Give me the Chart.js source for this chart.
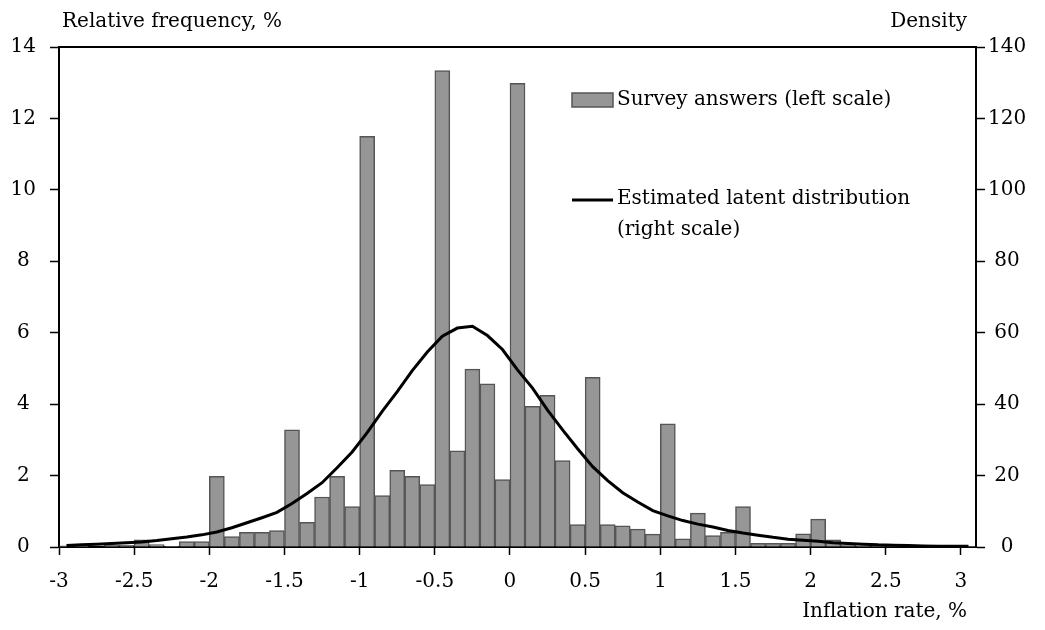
<!DOCTYPE html>
<html>
<head>
<meta charset="utf-8">
<script src="https://cdn.jsdelivr.net/npm/chart.js@4.4.1/dist/chart.umd.min.js"></script>
<style>
  html, body { margin: 0; padding: 0; background: #fff; }
  #wrap { width: 1045px; height: 630px; }
</style>
</head>
<body>
<div id="wrap"><canvas id="histChart" width="1045" height="630"></canvas></div>
<script>
// left edge of each 0.1-wide bin of expected inflation
const binStarts = [
  -3.0, -2.9, -2.8, -2.7, -2.6, -2.5, -2.4, -2.3, -2.2, -2.1,
  -2.0, -1.9, -1.8, -1.7, -1.6, -1.5, -1.4, -1.3, -1.2, -1.1,
  -1.0, -0.9, -0.8, -0.7, -0.6, -0.5, -0.4, -0.3, -0.2, -0.1,
   0.0,  0.1,  0.2,  0.3,  0.4,  0.5,  0.6,  0.7,  0.8,  0.9,
   1.0,  1.1,  1.2,  1.3,  1.4,  1.5,  1.6,  1.7,  1.8,  1.9,
   2.0,  2.1,  2.2,  2.3,  2.4,  2.5,  2.6,  2.7,  2.8,  2.9,
   3.0
];

// share of answers in each bin, %
const surveyShares = [
  0.03, 0.02, 0.00, 0.05, 0.05, 0.20, 0.07, 0.02, 0.15, 0.15,
  1.98, 0.29, 0.41, 0.41, 0.46, 3.28, 0.69, 1.40, 1.98, 1.13,
  11.50, 1.44, 2.15, 1.98, 1.75, 13.34, 2.69, 4.98, 4.57, 1.89,
  12.98, 3.94, 4.25, 2.42, 0.63, 4.75, 0.63, 0.59, 0.50, 0.36,
  3.45, 0.23, 0.95, 0.32, 0.41, 1.13, 0.10, 0.10, 0.10, 0.37,
  0.78, 0.20, 0.06, 0.03, 0.03, 0.02, 0.02, 0.01, 0.01, 0.01,
  0.01
];

// latent density at bin midpoints
const latentDensity = [
  0.4, 0.6, 0.8, 1.0, 1.2, 1.4, 1.8, 2.3, 2.8, 3.4,
  4.2, 5.4, 6.8, 8.2, 9.7, 12.2, 15.0, 18.0, 22.2, 26.6,
  32.0, 38.0, 43.5, 49.4, 54.6, 59.0, 61.3, 61.8, 59.2, 55.3,
  49.6, 44.5, 38.3, 32.8, 27.5, 22.5, 18.6, 15.2, 12.6, 10.2,
  8.7, 7.4, 6.4, 5.6, 4.6, 3.9, 3.3, 2.7, 2.2, 1.9,
  1.6, 1.2, 1.0, 0.8, 0.6, 0.5, 0.4, 0.3, 0.2, 0.2,
  0.2
];

const xTicks = [-3, -2.5, -2, -1.5, -1, -0.5, 0, 0.5, 1, 1.5, 2, 2.5, 3];
const leftTicks = [0, 2, 4, 6, 8, 10, 12, 14];
const rightTicks = [0, 20, 40, 60, 80, 100, 120, 140];

const FONT_FAMILY = 'DejaVu Serif';
const FONT_SIZE = 20;
const BIN = 0.1;

const barPoints = binStarts.map((b, i) => ({ x: b + BIN / 2, y: surveyShares[i] }));
const linePoints = binStarts.map((b, i) => ({ x: b + BIN / 2, y: latentDensity[i] }));

function fixedTicks(values) {
  return function(scale) {
    scale.ticks = values.map(v => ({ value: v }));
  };
}

// top frame line, axis captions and the in-plot legend
const decorations = {
  id: 'decorations',
  afterDraw(chart) {
    const { ctx, chartArea } = chart;
    ctx.save();
    ctx.strokeStyle = '#000';
    ctx.lineWidth = 2;
    ctx.beginPath();
    ctx.moveTo(chartArea.left, chartArea.top);
    ctx.lineTo(chartArea.right, chartArea.top);
    ctx.stroke();

    ctx.fillStyle = '#000';
    ctx.font = FONT_SIZE + 'px "' + FONT_FAMILY + '"';
    ctx.textBaseline = 'middle';
    ctx.textAlign = 'left';
    ctx.fillText('Relative frequency, %', 62, 22);
    ctx.textAlign = 'right';
    ctx.fillText('Density', 967, 22);
    ctx.fillText('Inflation rate, %', 967, 612);

    // legend
    const bars = chart.data.datasets[1];
    const line = chart.data.datasets[0];
    ctx.textAlign = 'left';
    ctx.fillStyle = bars.backgroundColor;
    ctx.fillRect(572, 93, 41, 14);
    ctx.strokeStyle = bars.borderColor;
    ctx.lineWidth = 1.5;
    ctx.strokeRect(572, 93, 41, 14);
    ctx.fillStyle = '#000';
    ctx.fillText(bars.label, 617, 100);

    ctx.strokeStyle = line.borderColor;
    ctx.lineWidth = 3;
    ctx.beginPath();
    ctx.moveTo(572, 200);
    ctx.lineTo(613, 200);
    ctx.stroke();
    const lines = line.label.split('\n');
    lines.forEach((t, k) => ctx.fillText(t, 617, 199 + k * 31));
    ctx.restore();
  }
};

const ctx = document.getElementById('histChart').getContext('2d');

new Chart(ctx, {
  type: 'bar',
  data: {
    datasets: [
      {
        type: 'line',
        label: 'Estimated latent distribution\n(right scale)',
        data: linePoints,
        yAxisID: 'y1',
        borderColor: '#000',
        borderWidth: 3,
        pointRadius: 0,
        tension: 0,
        fill: false,
        order: 0
      },
      {
        type: 'bar',
        label: 'Survey answers (left scale)',
        data: barPoints,
        yAxisID: 'y',
        backgroundColor: '#969696',
        borderColor: '#555555',
        borderWidth: 1.5,
        categoryPercentage: 1.0,
        barPercentage: 1.0,
        grouped: false,
        order: 1
      }
    ]
  },
  options: {
    responsive: false,
    animation: false,
    devicePixelRatio: 1,
    layout: { padding: { top: 47, left: 0, right: 0, bottom: 0 } },
    plugins: {
      legend: { display: false },
      tooltip: { enabled: false }
    },
    scales: {
      x: {
        type: 'linear',
        min: -3,
        max: 3.1,
        offset: false,
        afterBuildTicks: fixedTicks(xTicks),
        afterFit(scale) { scale.height = 83; },
        grid: { offset: false, drawOnChartArea: false, drawTicks: true, tickLength: 8, tickColor: '#000', tickWidth: 1.5 },
        border: { display: true, color: '#000', width: 2 },
        ticks: {
          color: '#000',
          padding: 15,
          maxRotation: 0,
          autoSkip: false,
          font: { family: FONT_FAMILY, size: FONT_SIZE },
          callback: v => String(v)
        }
      },
      y: {
        position: 'left',
        min: 0,
        max: 14,
        afterBuildTicks: fixedTicks(leftTicks),
        afterFit(scale) { scale.width = 59; },
        grid: { drawOnChartArea: false, drawTicks: true, tickLength: 9, tickColor: '#000', tickWidth: 1.5 },
        border: { display: true, color: '#000', width: 2 },
        ticks: {
          color: '#000',
          padding: 14,
          crossAlign: 'center',
          font: { family: FONT_FAMILY, size: FONT_SIZE }
        }
      },
      y1: {
        position: 'right',
        min: 0,
        max: 140,
        afterBuildTicks: fixedTicks(rightTicks),
        afterFit(scale) { scale.width = 69; },
        grid: { drawOnChartArea: false, drawTicks: true, tickLength: 9, tickColor: '#000', tickWidth: 1.5 },
        border: { display: true, color: '#000', width: 2 },
        ticks: {
          color: '#000',
          padding: 3,
          crossAlign: 'center',
          font: { family: FONT_FAMILY, size: FONT_SIZE }
        }
      }
    }
  },
  plugins: [decorations]
});
</script>
</body>
</html>
